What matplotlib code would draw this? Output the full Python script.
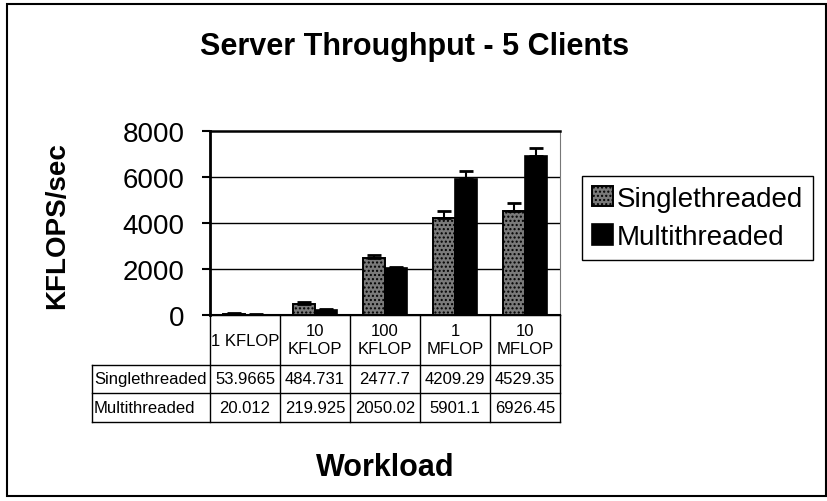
import numpy as np
import matplotlib
matplotlib.use('Agg')
import matplotlib.pyplot as plt
import matplotlib.patches as patches
import matplotlib.transforms as mtransforms

plt.rcParams['font.family'] = ['Liberation Sans', 'DejaVu Sans']
plt.rcParams['hatch.linewidth'] = 1.0

# Data
workloads = ['1 KFLOP', '10\nKFLOP', '100\nKFLOP', '1\nMFLOP', '10\nMFLOP']
series_names = ['Singlethreaded', 'Multithreaded']
single = [53.9665, 484.731, 2477.7, 4209.29, 4529.35]
multi = [20.012, 219.925, 2050.02, 5901.1, 6926.45]
single_labels = ['53.9665', '484.731', '2477.7', '4209.29', '4529.35']
multi_labels = ['20.012', '219.925', '2050.02', '5901.1', '6926.45']
single_err = [15, 60, 120, 300, 330]
multi_err = [5, 20, 40, 350, 330]
yticks = [0, 2000, 4000, 6000, 8000]

W, H = 828, 502
fig = plt.figure(figsize=(W / 100, H / 100), dpi=100)

# plot area in pixels: x 210-560, y 132-316
ax = fig.add_axes([210 / W, 1 - 316 / H, 350 / W, 184 / H])

x = np.arange(len(workloads))
bw = 0.31
ax.bar(x - bw / 2, single, bw, facecolor='#7a7a7a', edgecolor='black',
       hatch='....', linewidth=1.4, label=series_names[0], zorder=3)
ax.bar(x + bw / 2, multi, bw, facecolor='black', edgecolor='black',
       linewidth=1.2, label=series_names[1], zorder=3)
ax.errorbar(x - bw / 2, single, yerr=[np.zeros(5), single_err], fmt='none',
            ecolor='black', capsize=5, elinewidth=1.5, capthick=2, zorder=4)
ax.errorbar(x + bw / 2, multi, yerr=[np.zeros(5), multi_err], fmt='none',
            ecolor='black', capsize=5, elinewidth=1.5, capthick=2, zorder=4)

ax.set_xlim(-0.5, len(workloads) - 0.5)
ax.set_ylim(0, 8000)
ax.set_yticks(yticks)
ax.set_yticklabels([str(v) for v in yticks], fontsize=20)
ax.tick_params(axis='y', length=6, width=1.5, pad=12.5, direction='out')
ax.set_xticks([])
for v in yticks[1:-1]:
    ax.axhline(v, color='black', linewidth=1, zorder=1)
ax.spines['left'].set_linewidth(2)
ax.spines['top'].set_linewidth(1.8)
ax.spines['bottom'].set_linewidth(1.5)
ax.spines['right'].set_linewidth(0.8)
ax.spines['right'].set_color('#777777')

# data table under the plot: columns follow the categories (x in data units),
# rows in axes fraction below the plot
tr = mtransforms.blended_transform_factory(ax.transData, ax.transAxes)
ph = 184.0  # plot height in px
row_edges = [0, -50 / ph, -78 / ph, -107 / ph]
lab_left = -0.5 - 118 / 70
n = len(workloads)
kw = dict(transform=tr, clip_on=False, color='black', linewidth=1)
# horizontal lines
ax.plot([-0.5, n - 0.5], [row_edges[0]] * 2, **kw)
for yy in row_edges[1:]:
    ax.plot([lab_left, n - 0.5], [yy, yy], **kw)
# vertical lines
for i in range(n + 1):
    ax.plot([i - 0.5, i - 0.5], [row_edges[0], row_edges[-1]], **kw)
ax.plot([lab_left, lab_left], [row_edges[1], row_edges[-1]], **kw)

tfs = 12
for i, lab in enumerate(workloads):
    ax.text(i, (row_edges[0] + row_edges[1]) / 2, lab, transform=tr,
            ha='center', va='center', fontsize=tfs, linespacing=1.25)
for r, (name, vals) in enumerate(zip(series_names, [single_labels, multi_labels])):
    yc = (row_edges[r + 1] + row_edges[r + 2]) / 2
    ax.text(lab_left + 0.03, yc, name, transform=tr, ha='left', va='center',
            fontsize=tfs)
    for i, s in enumerate(vals):
        ax.text(i, yc, s, transform=tr, ha='center', va='center', fontsize=tfs)

# titles
fig.text(415 / W, 1 - 47 / H, 'Server Throughput - 5 Clients', fontsize=22,
         fontweight='bold', ha='center', va='center')
fig.text(57 / W, 1 - 226 / H, 'KFLOPS/sec', fontsize=20, fontweight='bold',
         rotation=90, ha='center', va='center')
fig.text(385 / W, 1 - 468 / H, 'Workload', fontsize=22, fontweight='bold',
         ha='center', va='center')

# legend
leg = fig.legend(loc='upper left', bbox_to_anchor=(582 / W, 1 - 177 / H),
                 fontsize=20, frameon=True, fancybox=False, framealpha=1,
                 edgecolor='black', borderaxespad=0, borderpad=0.35,
                 handlelength=0.75, handleheight=0.75, handletextpad=0.15,
                 labelspacing=0.45)
leg.get_frame().set_linewidth(1)

# outer chart border
fig.patches.append(patches.Rectangle((7 / W, 5 / H), 819 / W, 492 / H,
                                     transform=fig.transFigure, fill=False,
                                     edgecolor='black', linewidth=1.5))

fig.savefig('out.png', dpi=100)
